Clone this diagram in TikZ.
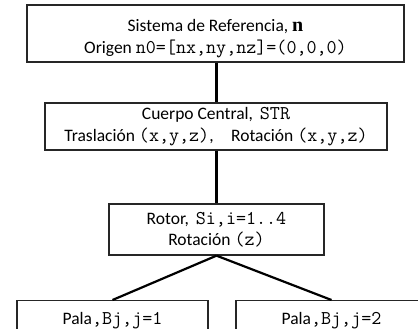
\documentclass[tikz,border=0pt]{standalone}
\usepackage{fontspec}
\setmainfont{Carlito}
\newfontfamily\serifbold{Liberation Serif}
\newcommand{\mono}[1]{{\ttfamily\fontsize{19.5}{21}\selectfont #1}}
\tikzset{
    levelbox/.style={draw=black!85, line width=1.3pt, fill=white, align=center,
        font=\fontsize{17.5}{21.5}\selectfont, inner sep=0pt},
    link/.style={draw=black, line width=2.2pt}
}
\begin{document}
\begin{tikzpicture}[x=1pt, y=-1pt]
    \useasboundingbox (0, 0) rectangle (418, 329);
        \node[levelbox, minimum width=377pt, minimum height=57pt] (ref) at (215.5, 33.5)
            {\rule{0pt}{22pt}Sistema de Referencia, {\serifbold\bfseries\fontsize{20}{21}\selectfont n}\\
             Origen \mono{n0=[nx,ny,nz]=(0,0,0)}};
        \node[levelbox, minimum width=342pt, minimum height=47pt] (body) at (216, 126.5)
            {Cuerpo Central,\, \mono{STR}\\
             Traslación \mono{(x,y,z)},\quad Rotación \mono{(x,y,z)}};
        \node[levelbox, minimum width=215pt, minimum height=51pt] (rotor) at (216.5, 229.5)
            {Rotor,\, \mono{Si,i=1..4}\\
             Rotación \mono{(z)}};
        \node[levelbox, anchor=north, minimum width=191pt, inner ysep=12pt] (bladeA) at (112.5, 300)
            {Pala\mono{,Bj,j=1}};
        \node[levelbox, anchor=north, minimum width=191pt, inner ysep=12pt] (bladeB) at (331.5, 300)
            {Pala\mono{,Bj,j=2}};
    \draw[link] (ref.south -| rotor.north) -- (rotor.north |- body.north);
    \draw[link] (body.south -| rotor.north) -- (rotor.north);
    \draw[link] (rotor.south) -- (bladeA.north);
    \draw[link] (rotor.south) -- (bladeB.north);
\end{tikzpicture}
\end{document}
